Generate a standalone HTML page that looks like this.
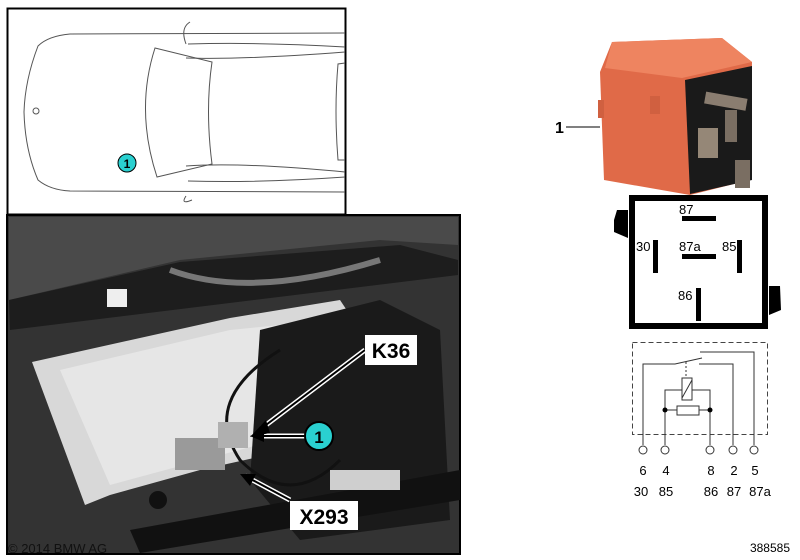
<!DOCTYPE html>
<html><head><meta charset="utf-8"><style>
body{margin:0;background:#fff;}
svg{display:block;font-family:"Liberation Sans",sans-serif;}
</style></head><body>
<svg width="800" height="560" viewBox="0 0 800 560">
<rect x="7.5" y="8.5" width="338" height="206" fill="#fff" stroke="#000" stroke-width="2"/>
<g fill="none" stroke="#555" stroke-width="1">
<path d="M345 33 L70 34 Q48 36 38 46 Q25 80 24 112 Q25 150 38 180 Q50 190 70 191 L345 192"/>
<path d="M155 48 L212 62 Q205 110 212 164 L157 177 Q135 110 155 48Z"/>
<path d="M186 44 Q180 28 190 22 M186 196 Q180 205 192 200"/>
<path d="M188 44 Q260 42 345 47 M186 58 Q240 60 345 52"/>
<path d="M188 181 Q260 183 345 177 M186 166 Q240 162 345 172"/>
<path d="M345 63 L338 64 Q334 110 338 160 L345 160"/>
<circle cx="36" cy="111" r="3"/>
</g>
<circle cx="127" cy="163" r="9" fill="#2ad0d0" stroke="#000"/>
<text x="127" y="168" font-size="12" font-weight="bold" text-anchor="middle">1</text>
<rect x="7" y="215" width="453" height="339" fill="#333" stroke="#000" stroke-width="2"/>
<path d="M9 217 L458 217 L458 245 L380 240 L180 260 L9 300Z" fill="#4a4a4a"/>
<path d="M9 300 L180 262 L400 245 L458 260 L458 275 L10 330Z" fill="#1d1d1d"/>
<path d="M32 362 L230 318 L340 300 L360 330 L380 430 L200 470 L110 495 L85 505 Z" fill="#d8d8d8"/>
<path d="M60 370 L230 330 L330 320 L350 420 L110 485Z" fill="#e6e6e6"/>
<path d="M260 330 L380 300 L440 330 L450 520 L300 540 L250 480Z" fill="#1a1a1a"/>
<path d="M130 530 L460 470 L460 500 L140 553Z" fill="#111"/>
<path d="M170 270 Q250 300 380 260" stroke="#777" stroke-width="6" fill="none"/>
<path d="M280 350 Q200 400 240 460 Q290 510 340 460" stroke="#111" stroke-width="3" fill="none"/>
<rect x="107" y="289" width="20" height="18" fill="#eee"/>
<rect x="175" y="438" width="50" height="32" fill="#9a9a9a"/>
<rect x="218" y="422" width="30" height="26" fill="#b0b0b0"/>
<circle cx="158" cy="500" r="9" fill="#111"/>
<rect x="330" y="470" width="70" height="20" fill="#cfcfcf"/>
<g stroke="#fff" stroke-width="5"><line x1="365" y1="350" x2="262" y2="428"/><line x1="308" y1="436" x2="262" y2="436"/><line x1="290" y1="500" x2="245" y2="476"/></g>
<g stroke="#000" stroke-width="2"><line x1="365" y1="350" x2="262" y2="428"/><line x1="308" y1="436" x2="262" y2="436"/><line x1="290" y1="500" x2="245" y2="476"/></g>
<polygon points="250,437 266,420 270,433" fill="#000"/>
<polygon points="250,436 264,430 264,442" fill="#000"/>
<polygon points="240,474 256,474 250,486" fill="#000"/>
<rect x="365" y="335" width="52" height="30" fill="#fff"/>
<text x="391" y="358" font-size="21" font-weight="bold" text-anchor="middle">K36</text>
<rect x="290" y="501" width="68" height="29" fill="#fff"/>
<text x="324" y="524" font-size="21" font-weight="bold" text-anchor="middle">X293</text>
<circle cx="319" cy="436" r="14" fill="#2ad0d0" stroke="#000" stroke-width="2"/>
<text x="319" y="443" font-size="17" font-weight="bold" text-anchor="middle">1</text>
<text x="8" y="553" font-size="13" fill="#111">© 2014 BMW AG</text>
<text x="555" y="133" font-size="16" font-weight="bold">1</text>
<line x1="566" y1="127" x2="600" y2="127" stroke="#000"/>
<path d="M612 42 L722 38 L752 62 L750 180 L690 195 L604 180 L600 72Z" fill="#e06a48"/>
<path d="M612 42 L722 38 L752 62 L682 78 L605 68Z" fill="#ee8460"/>
<path d="M685 80 L752 66 L752 180 L690 194Z" fill="#1a1a1a"/>
<rect x="598" y="100" width="6" height="18" fill="#d06040"/><rect x="650" y="96" width="10" height="18" fill="#d06040"/>
<rect x="705" y="95" width="42" height="12" fill="#8a7d70" transform="rotate(10 725 100)"/>
<rect x="725" y="110" width="12" height="32" fill="#7a6e62"/>
<rect x="698" y="128" width="20" height="30" fill="#958777"/>
<rect x="735" y="160" width="15" height="28" fill="#7a6e62"/>
<rect x="632" y="198" width="133" height="128" fill="#fff" stroke="#000" stroke-width="6"/>
<path d="M628 210 L617 210 L614 220 L614 232 L628 238Z" fill="#000"/>
<path d="M769 286 L780 286 L781 310 L769 315Z" fill="#000"/>
<g fill="#000"><rect x="682" y="216" width="34" height="5"/><rect x="682" y="254" width="34" height="5"/><rect x="653" y="240" width="5" height="33"/><rect x="737" y="240" width="5" height="33"/><rect x="696" y="288" width="5" height="33"/></g>
<g font-size="13"><text x="679" y="214">87</text><text x="679" y="251">87a</text><text x="636" y="251">30</text><text x="722" y="251">85</text><text x="678" y="300">86</text></g>
<rect x="632.5" y="342.5" width="135" height="92" fill="none" stroke="#444" stroke-dasharray="5,3"/>
<g fill="none" stroke="#333" stroke-width="1">
<path d="M643 445 L643 364 L675 364 L702 358 M700 352 L754 352 L754 445 M699 364 L733 364 L733 445"/>
<path d="M686 362 L686 378" stroke-dasharray="2,2"/>
<rect x="682" y="378" width="10" height="22"/><line x1="682" y1="398" x2="692" y2="380"/>
<path d="M682 390 L665 390 L665 445 M692 390 L710 390 L710 445"/>
<rect x="677" y="406" width="22" height="9"/><path d="M665 410 L677 410 M699 410 L710 410"/>
<circle cx="643" cy="450" r="4"/><circle cx="665" cy="450" r="4"/><circle cx="710" cy="450" r="4"/><circle cx="733" cy="450" r="4"/><circle cx="754" cy="450" r="4"/>
</g>
<circle cx="665" cy="410" r="2.5" fill="#000"/><circle cx="710" cy="410" r="2.5" fill="#000"/>
<g font-size="13" text-anchor="middle"><text x="643" y="475">6</text><text x="666" y="475">4</text><text x="711" y="475">8</text><text x="734" y="475">2</text><text x="755" y="475">5</text>
<text x="641" y="496">30</text><text x="666" y="496">85</text><text x="711" y="496">86</text><text x="734" y="496">87</text><text x="760" y="496">87a</text></g>
<text x="790" y="552" font-size="12" text-anchor="end">388585</text>
</svg>
</body></html>
